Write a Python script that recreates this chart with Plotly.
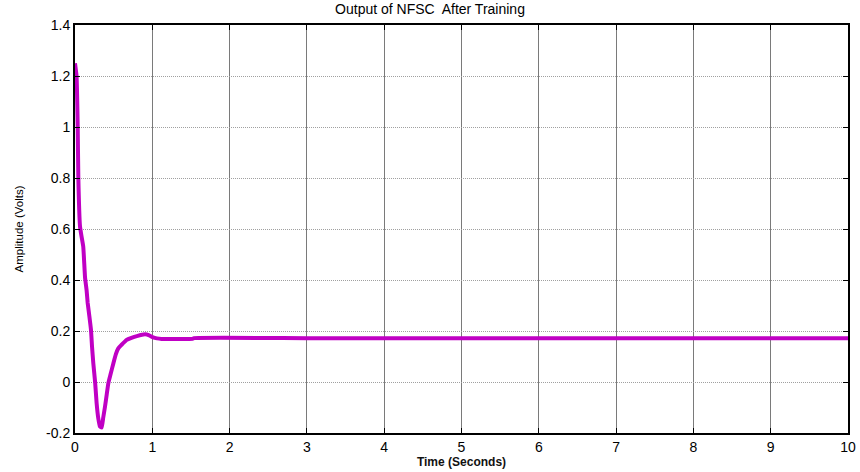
import plotly.graph_objects as go

time_s = [0.0, 0.02, 0.035, 0.043, 0.065, 0.085, 0.107, 0.13, 0.15, 0.164, 0.185, 0.207, 0.22, 0.237,
          0.26, 0.28, 0.30, 0.323, 0.345, 0.365, 0.388, 0.41, 0.431, 0.46, 0.496, 0.53, 0.56, 0.6,
          0.668, 0.73, 0.8, 0.906, 0.96, 1.01, 1.06, 1.12, 1.3, 1.52, 1.54, 3.0, 5.0, 7.0, 9.0, 10.0]
amplitude = [1.25, 1.2, 1.0, 0.805, 0.61, 0.57, 0.53, 0.41, 0.36, 0.31, 0.26, 0.204, 0.14, 0.073,
             0.0, -0.084, -0.14, -0.175, -0.178, -0.14, -0.097, -0.05, -0.005, 0.03, 0.073, 0.11, 0.132,
             0.145, 0.165, 0.173, 0.18, 0.187, 0.183, 0.175, 0.171, 0.169, 0.169, 0.169, 0.172, 0.172,
             0.172, 0.172, 0.172, 0.172]

x_ticks = [0, 1, 2, 3, 4, 5, 6, 7, 8, 9, 10]
y_ticks = [-0.2, 0, 0.2, 0.4, 0.6, 0.8, 1.0, 1.2, 1.4]
y_tick_labels = ["-0.2", "0", "0.2", "0.4", "0.6", "0.8", "1", "1.2", "1.4"]

fig = go.Figure()
fig.add_trace(go.Scatter(x=time_s, y=amplitude, mode="lines",
                         line=dict(color="#c000c4", width=4, shape="spline", smoothing=0.4),
                         showlegend=False, cliponaxis=False))

tick_font = dict(family="Liberation Sans, Arial, sans-serif", size=14, color="black")
fig.update_layout(
    width=860, height=472,
    margin=dict(l=75, r=12, t=25, b=39),
    paper_bgcolor="white", plot_bgcolor="white",
    title=dict(text="Output of NFSC  After Training", x=0.5, xanchor="center", y=0.992, yanchor="top",
               font=dict(family="Liberation Sans, Arial, sans-serif", size=14, color="black")),
    xaxis=dict(range=[0, 10], tickvals=x_ticks, showgrid=True, gridcolor="#7a7a7a", gridwidth=1,
               showline=True, linecolor="black", linewidth=2, mirror="ticks", ticks="inside", ticklen=5,
               tickcolor="black", tickfont=tick_font, zeroline=False, automargin=False,
               title=dict(text="<b>Time (Seconds)</b>", standoff=4,
                          font=dict(family="Liberation Sans, Arial, sans-serif", size=12, color="#111"))),
    yaxis=dict(range=[-0.2, 1.4], tickvals=y_ticks, ticktext=y_tick_labels, showgrid=True,
               gridcolor="#a0a0a0", gridwidth=1, griddash="1px,1px",
               showline=True, linecolor="black", linewidth=2, mirror="ticks", ticks="inside", ticklen=5,
               tickcolor="black", tickfont=tick_font, zeroline=False, automargin=False,
               title=dict(text="Amplitude (Volts)", standoff=20,
                          font=dict(family="Liberation Sans Narrow, Arial Narrow, sans-serif", size=11.5,
                                    color="black"))),
)

fig.write_html("out.html")
